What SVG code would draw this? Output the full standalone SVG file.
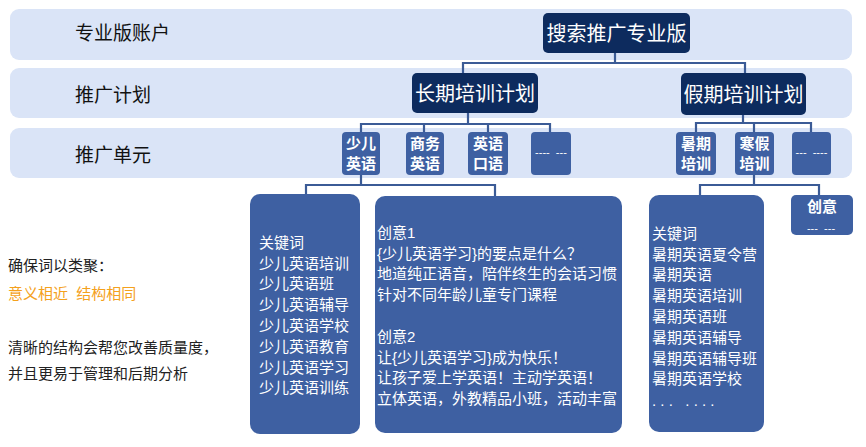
<svg xmlns="http://www.w3.org/2000/svg" width="866" height="447" viewBox="0 0 866 447">
<style>
text{font-family:"Liberation Sans","Noto Sans CJK SC",sans-serif;}
.band{fill:#dae4f7;}
.row{font-size:19px;fill:#111;}
.dark{fill:#0d2b5e;}
.mid{fill:#3e60a2;}
.ttl{font-size:20px;fill:#fff;text-anchor:middle;}
.unit{font-size:15px;font-weight:bold;fill:#fff;text-anchor:middle;}
.dash{font-size:11px;fill:#fff;text-anchor:middle;}
.body{font-size:15px;fill:#fff;}
.note{font-size:15px;fill:#222;}
.orange{fill:#f4a11d;}
.conn{fill:none;stroke:#3b5b96;stroke-width:2.2;}
</style>
<rect width="866" height="447" fill="#fff"/>
<g id="bands">
<rect class="band" x="10" y="9" width="842" height="51" rx="9"/>
<rect class="band" x="10" y="68" width="842" height="50" rx="9"/>
<rect class="band" x="10" y="128" width="842" height="50" rx="9"/>
<text class="row" x="75" y="40">专业版账户</text>
<text class="row" x="75" y="102">推广计划</text>
<text class="row" x="75" y="162">推广单元</text>
</g>
<g id="connectors">
<path class="conn" d="M615 53V63M463 73V63H745V73"/>
<path class="conn" d="M468 113V124M361 132V124H550V132M424 124V132M488 124V132"/>
<path class="conn" d="M743 115V123M696 132V123H811V132M754 123V132"/>
<path class="conn" d="M361 175V185M306 195V185H495V197"/>
<path class="conn" d="M754 175V185M700 195V185H819V195"/>
</g>
<g id="n-account">
<rect class="dark" x="543" y="13" width="147" height="40" rx="5"/>
<text class="ttl" x="616.5" y="40.5">搜索推广专业版</text>
</g>
<g id="n-plan-long">
<rect class="dark" x="412" y="73" width="126" height="40" rx="5"/>
<text class="ttl" x="475" y="100.5">长期培训计划</text>
</g>
<g id="n-plan-holiday">
<rect class="dark" x="681" y="73" width="125" height="42" rx="5"/>
<text class="ttl" x="743.5" y="101.5">假期培训计划</text>
</g>
<g id="n-unit-kids">
<rect class="mid" x="342" y="132" width="38" height="43" rx="4"/>
<text class="unit" x="361" y="149">少儿</text>
<text class="unit" x="361" y="169">英语</text>
</g>
<g id="n-unit-business">
<rect class="mid" x="406" y="132" width="38" height="43" rx="4"/>
<text class="unit" x="425" y="149">商务</text>
<text class="unit" x="425" y="169">英语</text>
</g>
<g id="n-unit-oral">
<rect class="mid" x="468" y="132" width="40" height="43" rx="4"/>
<text class="unit" x="488" y="149">英语</text>
<text class="unit" x="488" y="169">口语</text>
</g>
<g id="n-unit-more1">
<rect class="mid" x="531" y="132" width="40" height="43" rx="4"/>
<text class="dash" x="551" y="156" xml:space="preserve">----  ---</text>
</g>
<g id="n-unit-summer">
<rect class="mid" x="676" y="132" width="40" height="43" rx="4"/>
<text class="unit" x="696" y="149">暑期</text>
<text class="unit" x="696" y="169">培训</text>
</g>
<g id="n-unit-winter">
<rect class="mid" x="735" y="132" width="39" height="43" rx="4"/>
<text class="unit" x="754.5" y="149">寒假</text>
<text class="unit" x="754.5" y="169">培训</text>
</g>
<g id="n-unit-more2">
<rect class="mid" x="792" y="132" width="39" height="43" rx="4"/>
<text class="dash" x="811.5" y="156" xml:space="preserve">---  ----</text>
</g>
<g id="n-keywords-kids">
<rect class="mid" x="250" y="194" width="110" height="240" rx="10"/>
<text class="body" x="259">
<tspan x="259" y="247.7">关键词</tspan>
<tspan x="259" y="268.5">少儿英语培训</tspan>
<tspan x="259" y="289.3">少儿英语班</tspan>
<tspan x="259" y="310.1">少儿英语辅导</tspan>
<tspan x="259" y="330.9">少儿英语学校</tspan>
<tspan x="259" y="351.7">少儿英语教育</tspan>
<tspan x="259" y="372.5">少儿英语学习</tspan>
<tspan x="259" y="393.3">少儿英语训练</tspan>
</text>
</g>
<g id="n-ideas-kids">
<rect class="mid" x="375" y="196" width="247" height="237" rx="10"/>
<text class="body" x="377">
<tspan x="377" y="237.7">创意1</tspan>
<tspan x="377" y="258.5">{少儿英语学习}的要点是什么？</tspan>
<tspan x="377" y="279.3">地道纯正语音，陪伴终生的会话习惯</tspan>
<tspan x="377" y="300.1">针对不同年龄儿童专门课程</tspan>
<tspan x="377" y="341.7">创意2</tspan>
<tspan x="377" y="362.5">让{少儿英语学习}成为快乐！</tspan>
<tspan x="377" y="383.3">让孩子爱上学英语！主动学英语！</tspan>
<tspan x="377" y="404.1">立体英语，外教精品小班，活动丰富</tspan>
</text>
</g>
<g id="n-keywords-summer">
<rect class="mid" x="649" y="195" width="115" height="237" rx="10"/>
<text class="body" x="652">
<tspan x="652" y="238.7">关键词</tspan>
<tspan x="652" y="259.5">暑期英语夏令营</tspan>
<tspan x="652" y="280.3">暑期英语</tspan>
<tspan x="652" y="301.1">暑期英语培训</tspan>
<tspan x="652" y="321.9">暑期英语班</tspan>
<tspan x="652" y="342.7">暑期英语辅导</tspan>
<tspan x="652" y="363.5">暑期英语辅导班</tspan>
<tspan x="652" y="384.3">暑期英语学校</tspan>
</text>
<text class="body" x="652" y="406" font-size="12" xml:space="preserve">. . .   . . . .</text>
</g>
<g id="n-ideas-summer">
<rect class="mid" x="791" y="195" width="62" height="40" rx="5"/>
<text class="unit" x="822" y="211.5">创意</text>
<text class="dash" x="821" y="232" font-size="10" xml:space="preserve">---  ---</text>
</g>
<g id="notes">
<text class="note" x="8" y="270.7">确保词以类聚：</text>
<text class="note orange" x="8" y="298.7" xml:space="preserve">意义相近  结构相同</text>
<text class="note" x="8" y="352.7">清晰的结构会帮您改善质量度，</text>
<text class="note" x="8" y="378.7">并且更易于管理和后期分析</text>
</g>
</svg>
